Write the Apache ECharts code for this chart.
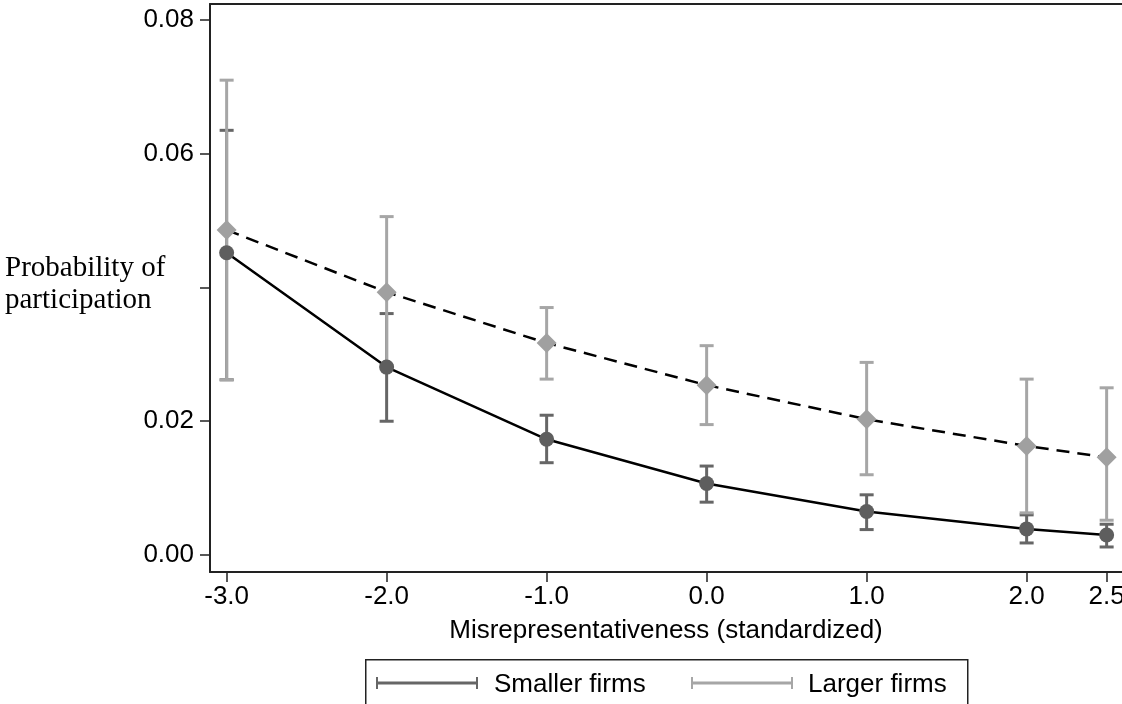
<!DOCTYPE html>
<html>
<head>
<meta charset="utf-8">
<script src="https://cdn.jsdelivr.net/npm/echarts@6/dist/echarts.min.js"></script>
<style>
  html, body { margin: 0; padding: 0; background: #fff; overflow: hidden; }
  #main { width: 1122px; height: 704px; }
</style>
</head>
<body>
<div id="main"></div>
<script>
// data
var xValues = [-3, -2, -1, 0, 1, 2, 2.5];
var xTickLabels = [-3, -2, -1, 0, 1, 2, 2.5];
var yTickLabels = [0, 0.02, 0.06, 0.08];
var yTicks = [0, 0.02, 0.04, 0.06, 0.08];

var smallMean = [0.0452, 0.0281, 0.0173, 0.0107, 0.0065, 0.0039, 0.0030];
var smallLow = [0.0262, 0.0200, 0.0138, 0.0079, 0.0038, 0.0018, 0.0012];
var smallHigh = [0.0635, 0.0361, 0.0209, 0.0133, 0.0090, 0.0060, 0.0046];

var largeMean = [0.0486, 0.0393, 0.0317, 0.0254, 0.0203, 0.0163, 0.0146];
var largeLow = [0.0262, 0.0283, 0.0263, 0.0195, 0.0120, 0.0063, 0.0052];
var largeHigh = [0.0710, 0.0506, 0.0370, 0.0313, 0.0288, 0.0263, 0.0250];

var darkGray = '#666666';
var lightGray = '#a6a6a6';
var sansFont = '"Liberation Sans", Arial, sans-serif';

function zip3(a, b, c) {
  return a.map(function (v, i) { return [v, b[i], c[i]]; });
}
function zip2(a, b) {
  return a.map(function (v, i) { return [v, b[i]]; });
}

function errorBars(color) {
  return function (params, api) {
    var x = api.value(0);
    var top = api.coord([x, api.value(2)]);
    var bot = api.coord([x, api.value(1)]);
    var half = 7;
    var style = { stroke: color, lineWidth: 3 };
    return {
      type: 'group',
      children: [
        { type: 'line', shape: { x1: top[0], y1: top[1], x2: bot[0], y2: bot[1] }, style: style },
        { type: 'line', shape: { x1: top[0] - half, y1: top[1], x2: top[0] + half, y2: top[1] }, style: style },
        { type: 'line', shape: { x1: bot[0] - half, y1: bot[1], x2: bot[0] + half, y2: bot[1] }, style: style }
      ]
    };
  };
}

var chart = echarts.init(document.getElementById('main'), null, { renderer: 'canvas' });

var option = {
  animation: false,
  backgroundColor: '#fff',
  grid: { left: 210, top: 4, right: 0, bottom: 132, containLabel: false, outerBoundsMode: 'none' },
  xAxis: [{
    type: 'value',
    min: -3.104,
    max: 2.596,
    splitLine: { show: false },
    axisLine: { show: true, onZero: false, lineStyle: { color: '#222', width: 2 } },
    axisTick: { show: true, inside: false, length: 10, customValues: xTickLabels, lineStyle: { color: '#222', width: 1.5 } },
    axisLabel: {
      customValues: xTickLabels,
      formatter: function (v) { return v.toFixed(1); },
      color: '#000', fontSize: 26, fontFamily: sansFont, margin: 12,
      showMinLabel: true, showMaxLabel: true, hideOverlap: false
    },
    name: 'Misrepresentativeness (standardized)',
    nameLocation: 'middle',
    nameGap: 46,
    nameTextStyle: { color: '#000', fontSize: 26, fontFamily: sansFont }
  }, {
    type: 'value',
    position: 'top',
    min: -3.104,
    max: 2.596,
    splitLine: { show: false },
    axisLine: { show: true, onZero: false, lineStyle: { color: '#222', width: 2 } },
    axisTick: { show: false },
    axisLabel: { show: false }
  }],
  yAxis: {
    type: 'value',
    min: -0.002542,
    max: 0.08239,
    splitLine: { show: false },
    axisLine: { show: true, onZero: false, lineStyle: { color: '#222', width: 2 } },
    axisTick: { show: true, inside: false, length: 10, customValues: yTicks, lineStyle: { color: '#222', width: 1.5 } },
    axisLabel: {
      customValues: yTickLabels,
      formatter: function (v) { return v.toFixed(2); },
      color: '#000', fontSize: 26, fontFamily: sansFont, margin: 16,
      showMinLabel: true, showMaxLabel: true
    }
  },
  graphic: [
    {
      type: 'text', left: 5, top: 252, z: 10,
      style: {
        text: 'Probability of\nparticipation',
        font: '29px "Liberation Serif", "Times New Roman", serif',
        fill: '#000', lineHeight: 32
      }
    },
    {
      type: 'rect', left: 365, top: 659, z: 10,
      shape: { width: 602, height: 60 },
      style: { fill: '#fff', stroke: '#222', lineWidth: 1.5 }
    },
    { type: 'line', z: 11, shape: { x1: 377, y1: 683, x2: 477, y2: 683 }, style: { stroke: darkGray, lineWidth: 3 } },
    { type: 'line', z: 11, shape: { x1: 377, y1: 677, x2: 377, y2: 689 }, style: { stroke: darkGray, lineWidth: 2 } },
    { type: 'line', z: 11, shape: { x1: 477, y1: 677, x2: 477, y2: 689 }, style: { stroke: darkGray, lineWidth: 2 } },
    {
      type: 'text', left: 494, top: 672, z: 11,
      style: { text: 'Smaller firms', font: '26px ' + sansFont, fill: '#000' }
    },
    { type: 'line', z: 11, shape: { x1: 692, y1: 683, x2: 792, y2: 683 }, style: { stroke: lightGray, lineWidth: 3 } },
    { type: 'line', z: 11, shape: { x1: 692, y1: 677, x2: 692, y2: 689 }, style: { stroke: lightGray, lineWidth: 2 } },
    { type: 'line', z: 11, shape: { x1: 792, y1: 677, x2: 792, y2: 689 }, style: { stroke: lightGray, lineWidth: 2 } },
    {
      type: 'text', left: 808, top: 672, z: 11,
      style: { text: 'Larger firms', font: '26px ' + sansFont, fill: '#000' }
    }
  ],
  series: [
    {
      name: 'Smaller firms CI',
      type: 'custom',
      z: 1,
      renderItem: errorBars(darkGray),
      data: zip3(xValues, smallLow, smallHigh)
    },
    {
      name: 'Larger firms CI',
      type: 'custom',
      z: 2,
      renderItem: errorBars(lightGray),
      data: zip3(xValues, largeLow, largeHigh)
    },
    {
      name: 'Smaller firms',
      type: 'line',
      z: 3,
      data: zip2(xValues, smallMean),
      symbol: 'circle',
      symbolSize: 15,
      showSymbol: true,
      itemStyle: { color: '#5e5e5e' },
      lineStyle: { color: '#000', width: 2.5 }
    },
    {
      name: 'Larger firms',
      type: 'line',
      z: 3,
      data: zip2(xValues, largeMean),
      symbol: 'diamond',
      symbolSize: [20, 20],
      showSymbol: true,
      itemStyle: { color: '#a0a0a0' },
      lineStyle: { color: '#000', width: 2.5, type: [13, 8] }
    }
  ]
};

chart.setOption(option);
</script>
</body>
</html>
